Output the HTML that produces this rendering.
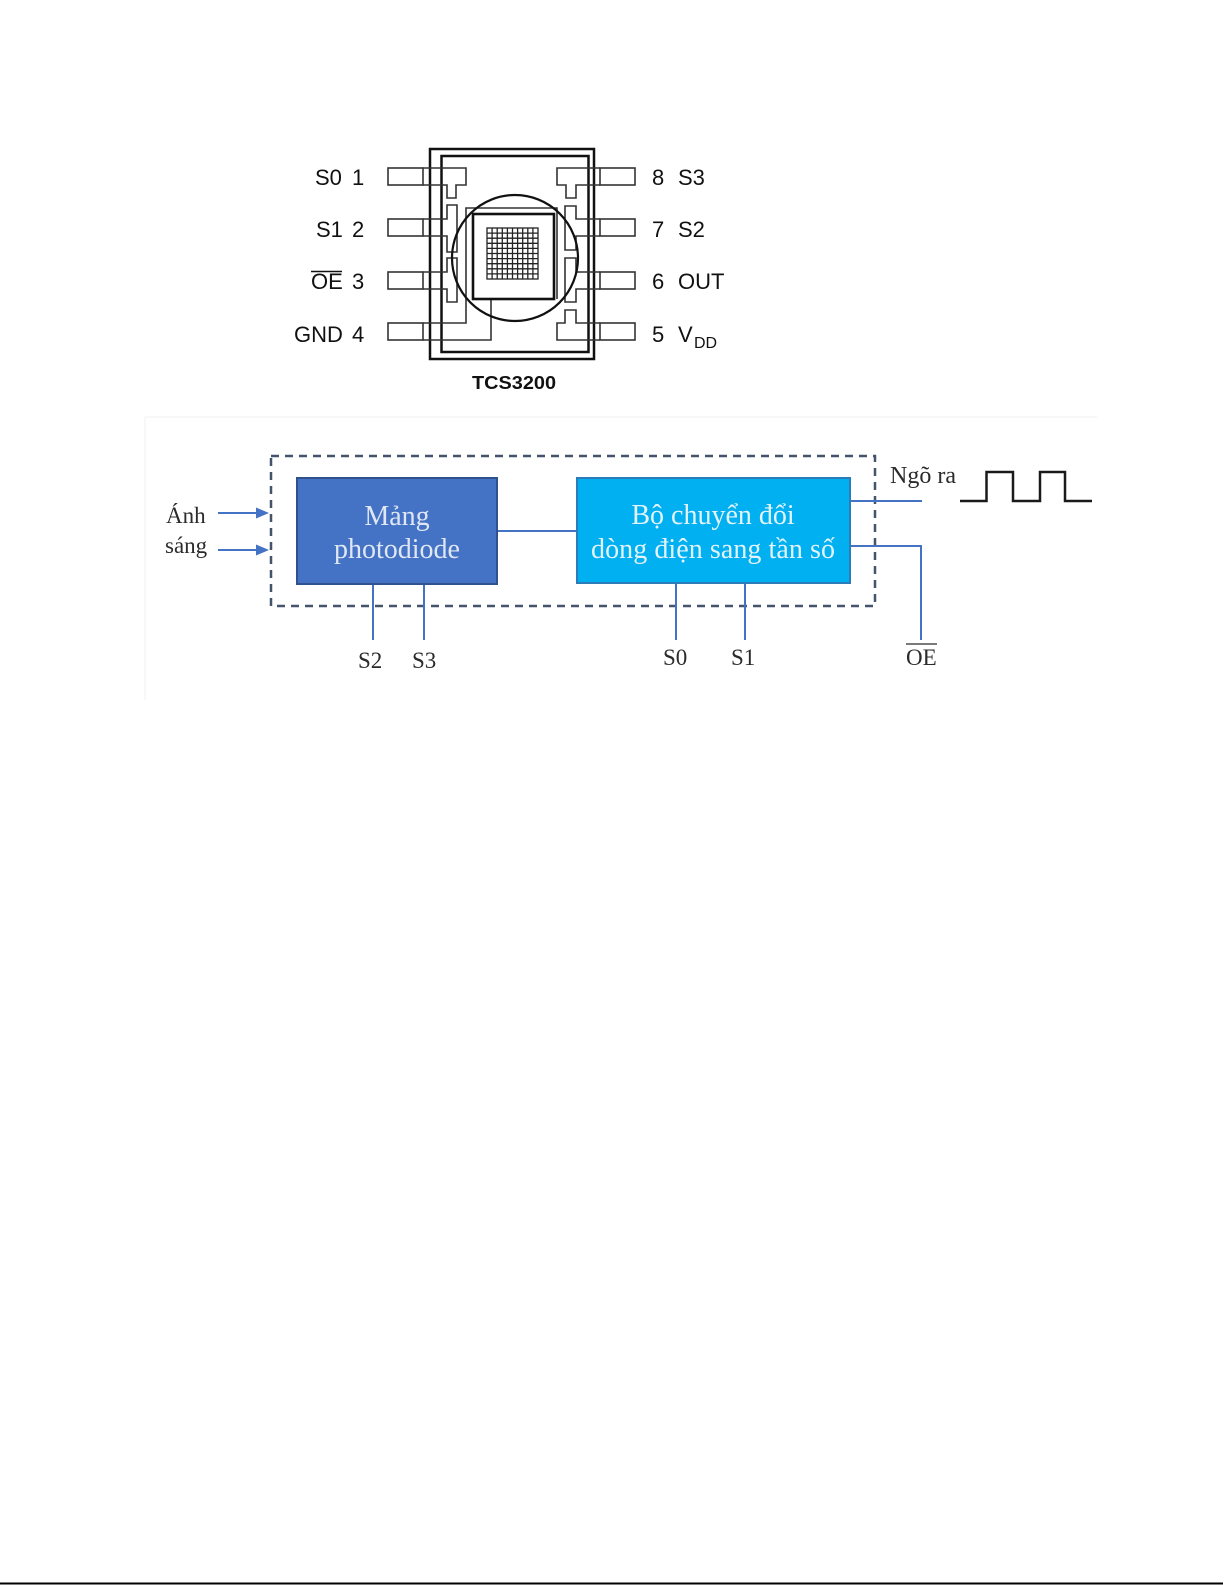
<!DOCTYPE html>
<html>
<head>
<meta charset="utf-8">
<style>
  html,body{margin:0;padding:0;background:#fff;}
  svg{display:block;}
</style>
</head>
<body>
<svg width="1225" height="1585" viewBox="0 0 1225 1585" xmlns="http://www.w3.org/2000/svg">
  <rect x="0" y="0" width="1225" height="1585" fill="#ffffff"/>

  <!-- ================= CHIP ================= -->
  <g fill="none" stroke-linejoin="miter">
    <rect x="430" y="149" width="164" height="210" stroke="#111" stroke-width="2.5"/>
    <rect x="441.5" y="156" width="147" height="196" stroke="#111" stroke-width="2.5"/>

    <g stroke="#333" stroke-width="1.6">
      <rect x="388" y="168" width="35" height="17"/>
      <rect x="388" y="219" width="35" height="17"/>
      <rect x="388" y="272" width="35" height="17"/>
      <rect x="388" y="323" width="35" height="17"/>
      <rect x="600" y="168" width="35" height="17"/>
      <rect x="600" y="219" width="35" height="17"/>
      <rect x="600" y="272" width="35" height="17"/>
      <rect x="600" y="323" width="35" height="17"/>

      <polyline points="423,168 466,168 466,185 456,185 456,198 447,198 447,185 423,185"/>
      <polyline points="423,219 447,219 447,205 457,205 457,252 447,252 447,236 423,236"/>
      <polyline points="423,272 447,272 447,258 457,258 457,302 447,302 447,289 423,289"/>
      <polyline points="423,323 466,323 466,208 557,208 557,299"/>
      <polyline points="423,340 491,340 491,299"/>

      <polyline points="600,168 557,168 557,185 566,185 566,198 576,198 576,185 600,185"/>
      <polyline points="600,219 576,219 576,206 565,206 565,250 576,250 576,236 600,236"/>
      <polyline points="600,272 576,272 576,258 565,258 565,302 576,302 576,289 600,289"/>
      <polyline points="600,323 576,323 576,310 565,310 565,323 557,323 557,340 600,340"/>
    </g>

    <rect x="473" y="214" width="81" height="85" stroke="#111" stroke-width="2.6"/>
    <circle cx="515" cy="258" r="63" stroke="#111" stroke-width="2.2"/>

    <g stroke="#222" stroke-width="1.3">
      <rect x="487" y="228" width="51" height="51"/>
      <line x1="492.1" y1="228" x2="492.1" y2="279"/>
      <line x1="497.2" y1="228" x2="497.2" y2="279"/>
      <line x1="502.3" y1="228" x2="502.3" y2="279"/>
      <line x1="507.4" y1="228" x2="507.4" y2="279"/>
      <line x1="512.5" y1="228" x2="512.5" y2="279"/>
      <line x1="517.6" y1="228" x2="517.6" y2="279"/>
      <line x1="522.7" y1="228" x2="522.7" y2="279"/>
      <line x1="527.8" y1="228" x2="527.8" y2="279"/>
      <line x1="532.9" y1="228" x2="532.9" y2="279"/>
      <line x1="487" y1="233.1" x2="538" y2="233.1"/>
      <line x1="487" y1="238.2" x2="538" y2="238.2"/>
      <line x1="487" y1="243.3" x2="538" y2="243.3"/>
      <line x1="487" y1="248.4" x2="538" y2="248.4"/>
      <line x1="487" y1="253.5" x2="538" y2="253.5"/>
      <line x1="487" y1="258.6" x2="538" y2="258.6"/>
      <line x1="487" y1="263.7" x2="538" y2="263.7"/>
      <line x1="487" y1="268.8" x2="538" y2="268.8"/>
      <line x1="487" y1="273.9" x2="538" y2="273.9"/>
    </g>
  </g>

  <g font-family="'Liberation Sans', Arial, sans-serif" font-size="22" fill="#111">
    <text x="315" y="185">S0</text>
    <text x="352" y="185">1</text>
    <text x="316" y="237">S1</text>
    <text x="352" y="237">2</text>
    <text x="311" y="289">OE</text>
    <line x1="311" y1="271.5" x2="342" y2="271.5" stroke="#111" stroke-width="1.6"/>
    <text x="352" y="289">3</text>
    <text x="294" y="342">GND</text>
    <text x="352" y="342">4</text>

    <text x="652" y="185">8</text>
    <text x="678" y="185">S3</text>
    <text x="652" y="237">7</text>
    <text x="678" y="237">S2</text>
    <text x="652" y="289">6</text>
    <text x="678" y="289">OUT</text>
    <text x="652" y="342">5</text>
    <text x="678" y="342">V</text>
    <text x="694" y="348" font-size="16">DD</text>
  </g>
  <text x="472" y="389" font-family="'Liberation Sans', Arial, sans-serif" font-weight="bold" font-size="18" fill="#111" textLength="84" lengthAdjust="spacingAndGlyphs">TCS3200</text>

  <!-- ================= BLOCK DIAGRAM ================= -->
  <polyline points="145,700 145,417 1097,417" fill="none" stroke="#f1f1f1" stroke-width="1"/>

  <rect x="271" y="456" width="604" height="150" fill="none" stroke="#44546a" stroke-width="2.5" stroke-dasharray="8,6"/>

  <g stroke="#4472c4" stroke-width="2" fill="none">
    <line x1="497" y1="531" x2="577" y2="531"/>
    <line x1="850" y1="501" x2="922" y2="501"/>
    <polyline points="850,546 921,546 921,640"/>
    <line x1="676" y1="583" x2="676" y2="640"/>
    <line x1="745" y1="583" x2="745" y2="640"/>
    <line x1="373" y1="584" x2="373" y2="640"/>
    <line x1="424" y1="584" x2="424" y2="640"/>
    <line x1="218" y1="513" x2="258" y2="513"/>
    <line x1="218" y1="550" x2="258" y2="550"/>
  </g>
  <polygon points="269,513 256,507.5 256,518.5" fill="#4472c4"/>
  <polygon points="269,550 256,544.5 256,555.5" fill="#4472c4"/>

  <rect x="297" y="478" width="200" height="106" fill="#4472c4" stroke="#2f528f" stroke-width="2"/>
  <rect x="577" y="478" width="273" height="105" fill="#00b0f0" stroke="#2a7db8" stroke-width="2"/>

  <g font-family="'Liberation Serif', 'Times New Roman', serif" font-size="28" text-anchor="middle">
    <text x="397" y="525" fill="#dfe7f4">Mảng</text>
    <text x="397" y="558" fill="#dfe7f4">photodiode</text>
    <text x="713" y="524" fill="#e3f3fb">Bộ chuyển đổi</text>
    <text x="713" y="558" fill="#e3f3fb" textLength="244" lengthAdjust="spacing">dòng điện sang tần số</text>
  </g>

  <g font-family="'Liberation Serif', 'Times New Roman', serif" font-size="23" fill="#2b2b2b">
    <text x="166" y="523">Ánh</text>
    <text x="165" y="553">sáng</text>
    <text x="890" y="483" font-size="24">Ngõ ra</text>
    <text x="358" y="668">S2</text>
    <text x="412" y="668">S3</text>
    <text x="663" y="665">S0</text>
    <text x="731" y="665">S1</text>
    <text x="906" y="665">OE</text>
  </g>
  <line x1="906" y1="644" x2="937" y2="644" stroke="#2b2b2b" stroke-width="1.3"/>

  <polyline points="960,501 986.5,501 986.5,472 1013,472 1013,501 1040,501 1040,472 1065,472 1065,501 1092,501" fill="none" stroke="#1a1a1a" stroke-width="2.5"/>

  <line x1="0" y1="1583.5" x2="1223" y2="1583.5" stroke="#000" stroke-width="2"/>
</svg>
</body>
</html>
